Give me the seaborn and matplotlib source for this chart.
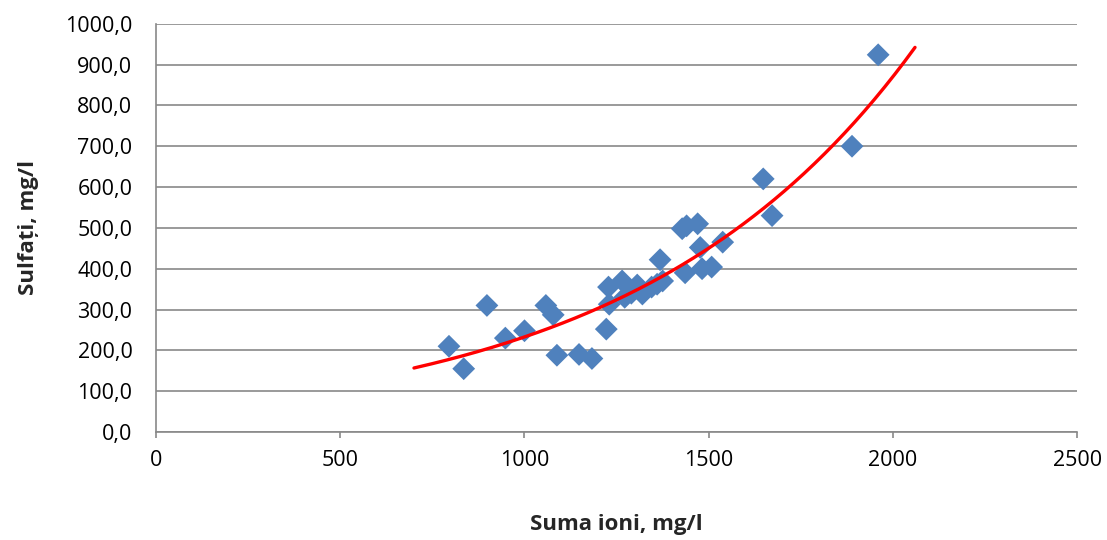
import numpy as np
import pandas as pd
import matplotlib
matplotlib.use("Agg")
import matplotlib.pyplot as plt
import seaborn as sns
from matplotlib.ticker import FuncFormatter, MultipleLocator

suma_ioni = [795, 835, 898, 948, 1000, 1058, 1078, 1088, 1148, 1183,
             1222, 1230, 1228, 1265, 1272, 1290, 1306, 1320, 1345, 1360,
             1368, 1375, 1428, 1440, 1470, 1477, 1436, 1482, 1508, 1538,
             1648, 1672, 1889, 1960]
sulfati = [210, 155, 310, 230, 248, 310, 287, 188, 190, 180,
           252, 313, 355, 370, 330, 340, 360, 338, 355, 362,
           422, 370, 498, 505, 510, 452, 390, 400, 404, 465,
           620, 530, 700, 924]
trend_range = [700, 2060]

sns.set_theme(style="white")
plt.rcParams['font.family'] = ['Open Sans', 'DejaVu Sans']

df = pd.DataFrame({"x": suma_ioni, "y": sulfati})

fig = plt.figure(figsize=(11.07, 5.40), dpi=100)
ax = fig.add_axes([0.141, 0.2, 0.832, 0.756])

sns.scatterplot(data=df, x="x", y="y", marker="D", s=135, color="#4F81BD",
                edgecolor="none", ax=ax, zorder=3)

# exponential trend line (log-linear least squares)
b, lna = np.polyfit(df["x"], np.log(df["y"]), 1)
xt = np.linspace(trend_range[0], trend_range[1], 200)
yt = np.exp(lna) * np.exp(b * xt)
sns.lineplot(x=xt, y=yt, color="#FF0000", linewidth=2.4, ax=ax, zorder=4)

ax.set_xlim(0, 2500)
ax.set_ylim(0, 1000)
ax.xaxis.set_major_locator(MultipleLocator(500))
ax.yaxis.set_major_locator(MultipleLocator(100))
ax.yaxis.set_major_formatter(FuncFormatter(lambda v, p: f"{v:.1f}".replace(".", ",")))
ax.xaxis.set_major_formatter(FuncFormatter(lambda v, p: f"{int(v)}"))

ax.yaxis.grid(True, color="#898989", linewidth=1.2)
ax.xaxis.grid(False)
for s in ["top", "right"]:
    ax.spines[s].set_visible(False)
for s in ["left", "bottom"]:
    ax.spines[s].set_color("#898989")
    ax.spines[s].set_linewidth(1.2)

ax.tick_params(axis="x", bottom=True, length=4, color="#898989", width=1.2,
               labelsize=15.5, pad=9, labelcolor="black")
ax.tick_params(axis="y", left=False, length=0, labelsize=15.5, pad=17, labelcolor="black")

ax.set_xlabel("Suma ioni, mg/l", fontsize=16, fontweight="bold", labelpad=31)
ax.set_ylabel("Sulfați, mg/l", fontsize=16, fontweight="bold", labelpad=19)

fig.savefig("out.png", dpi=100)
